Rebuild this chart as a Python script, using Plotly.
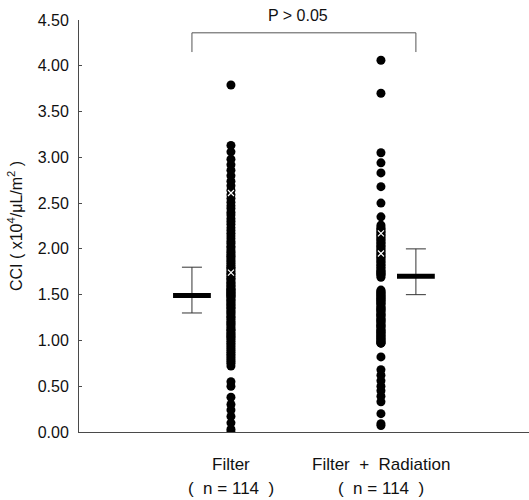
import plotly.graph_objects as go

categories = ["Filter", "Filter\u00a0\u00a0+\u00a0\u00a0Radiation"]
n_labels = ["(\u00a0 n = 114 \u00a0)", "(\u00a0 n = 114 \u00a0)"]
y_title = "CCI ( x10<sup>4</sup>/μL/m<sup>2</sup> )"

filter_vals = [
    3.79,
    3.13, 3.06, 2.98, 2.92, 2.86, 2.80, 2.74, 2.69, 2.64, 2.59, 2.55, 2.51,
    2.47, 2.44, 2.40, 2.37, 2.33, 2.30, 2.27, 2.23, 2.20, 2.17, 2.14, 2.11, 2.08, 2.06, 2.03, 2.01,
    1.98, 1.96, 1.94, 1.92, 1.90, 1.88, 1.86, 1.84, 1.82, 1.80, 1.79, 1.77, 1.75, 1.73, 1.72,
    1.70, 1.68, 1.67, 1.65, 1.63, 1.62, 1.60, 1.59, 1.57, 1.56, 1.55, 1.54, 1.53, 1.52, 1.51,
    1.50, 1.49, 1.48, 1.47, 1.45, 1.44, 1.42, 1.41, 1.39, 1.38, 1.36, 1.35, 1.33, 1.31, 1.30,
    1.28, 1.26, 1.25, 1.23, 1.21, 1.19, 1.18, 1.16, 1.14, 1.12, 1.11, 1.09, 1.07, 1.06, 1.04,
    1.03, 1.01,
    0.99, 0.97, 0.95, 0.93, 0.91, 0.89, 0.87, 0.85, 0.83, 0.81, 0.79, 0.77, 0.75, 0.72,
    0.55, 0.50, 0.38, 0.30, 0.24, 0.17, 0.10, 0.03, 0.00,
]

radiation_vals = [
    4.06, 3.70, 3.05, 2.94, 2.83, 2.68, 2.50, 2.35,
    2.26, 2.24, 2.22, 2.21, 2.19, 2.18, 2.16, 2.15, 2.13, 2.12, 2.10, 2.09, 2.07, 2.06, 2.04,
    2.03, 2.01, 2.00, 1.98, 1.97, 1.95, 1.94, 1.92, 1.91, 1.89, 1.88, 1.86, 1.85, 1.83, 1.82,
    1.80, 1.79, 1.77, 1.76, 1.75, 1.74, 1.73, 1.72, 1.71, 1.69,
    1.55, 1.54, 1.53, 1.52, 1.51, 1.50, 1.49, 1.48, 1.47, 1.46, 1.45, 1.44, 1.43, 1.42, 1.41,
    1.40, 1.39, 1.37, 1.36, 1.35, 1.34, 1.33, 1.32, 1.30, 1.29, 1.28, 1.27, 1.26, 1.24, 1.23,
    1.22, 1.21, 1.20, 1.18, 1.17, 1.16, 1.15, 1.14, 1.12, 1.11, 1.10, 1.09, 1.08, 1.07, 1.06,
    1.05, 1.04, 1.03, 1.02, 1.01, 1.00, 0.99, 0.98, 0.97, 0.97,
    0.82, 0.68, 0.62, 0.56, 0.50, 0.45, 0.39, 0.33, 0.20, 0.09, 0.07,
]

white_marks = [[2.61, 1.74], [2.17, 1.95]]

summary_center = [1.49, 1.70]
summary_upper = [1.80, 2.00]
summary_lower = [1.30, 1.50]

bracket_low, bracket_high = 4.15, 4.36
p_text = "P > 0.05"

FONT = "Liberation Sans, Arial, Helvetica, sans-serif"
AXIS = "#4a4a4a"

fig = go.Figure()

cat_x = [1, 2]
summary_x = [1 - 0.26, 2 + 0.233]

for cx, vals, wm in zip(cat_x, [filter_vals, radiation_vals], white_marks):
    fig.add_trace(go.Scatter(
        x=[cx] * len(vals), y=vals, mode="markers",
        marker=dict(size=9, color="black", line=dict(width=0)),
        hoverinfo="y",
    ))
    fig.add_trace(go.Scatter(
        x=[cx] * len(wm), y=wm, mode="markers",
        marker=dict(symbol="x-thin", size=6, line=dict(width=1.2, color="white")),
        hoverinfo="skip",
    ))

for sx, c, up, lo in zip(summary_x, summary_center, summary_upper, summary_lower):
    fig.add_trace(go.Scatter(
        x=[sx], y=[c], mode="markers",
        marker=dict(symbol="line-ew", size=27, color="black",
                    line=dict(width=5, color="black")),
        error_y=dict(type="data", symmetric=False, array=[up - c], arrayminus=[c - lo],
                     width=10, thickness=1, color="#333"),
    ))

fig.add_trace(go.Scatter(
    x=[summary_x[0], summary_x[0], summary_x[1], summary_x[1]],
    y=[bracket_low, bracket_high, bracket_high, bracket_low],
    mode="lines", line=dict(color="#555", width=1), hoverinfo="skip",
))

fig.add_annotation(x=1.447, y=1.012, xref="x", yref="paper", text=p_text, showarrow=False,
                   yanchor="middle", font=dict(family=FONT, size=16, color="#111"))

fig.add_annotation(x=-0.142, y=0.5, xref="paper", yref="paper", text=y_title,
                   showarrow=False, textangle=-90, xanchor="center", yanchor="middle",
                   font=dict(family=FONT, size=16, color="#111"))

for cx, name, nl in zip(cat_x, categories, n_labels):
    fig.add_annotation(x=cx, y=-0.078, xref="x", yref="paper", text=name, showarrow=False,
                       yanchor="middle", font=dict(family=FONT, size=17, color="#111"))
    fig.add_annotation(x=cx, y=-0.138, xref="x", yref="paper", text=nl, showarrow=False,
                       yanchor="middle", font=dict(family=FONT, size=17, color="#111"))

fig.update_layout(
    width=529, height=500,
    margin=dict(l=79, r=0, t=20, b=68),
    plot_bgcolor="white", paper_bgcolor="white",
    showlegend=False,
    font=dict(family=FONT, size=16, color="#111"),
    xaxis=dict(range=[-0.013, 2.987], showline=True, linecolor=AXIS, linewidth=1,
               showgrid=False, zeroline=False, showticklabels=False, ticks=""),
    yaxis=dict(range=[0, 4.5], showline=True, linecolor=AXIS, linewidth=1,
               showgrid=False, zeroline=False,
               tickvals=[0, 0.5, 1, 1.5, 2, 2.5, 3, 3.5, 4, 4.5], tickformat=".2f",
               ticks="inside", ticklen=3, tickcolor=AXIS, ticklabelstandoff=6,
               tickfont=dict(family=FONT, size=16, color="#111")),
)

fig.write_html("out.html", config={"displayModeBar": False},
               post_script="document.body.style.margin='0px';")
